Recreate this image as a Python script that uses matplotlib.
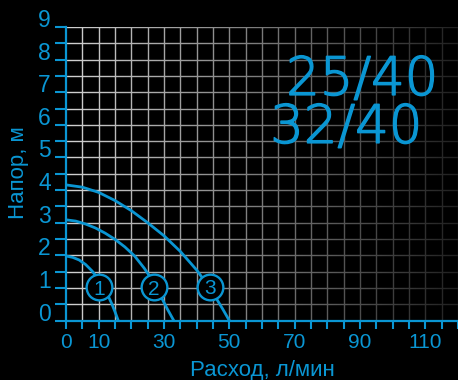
import matplotlib.pyplot as plt
import matplotlib.patheffects as pe
import numpy as np

plt.rcParams['font.family'] = ['Liberation Sans', 'DejaVu Sans']

# Цвета
blue = '#0a96d3'
bg = 'black'

# Кривые насоса (расход, л/мин ; напор, м)
q1 = [0, 2, 4, 6, 8, 10, 12, 14, 15, 16]
h1 = [1.98, 1.94, 1.86, 1.72, 1.52, 1.26, 0.95, 0.52, 0.27, 0.0]
q2 = [0, 3, 6, 9, 12, 15, 18, 21, 24, 27, 29, 31, 33]
h2 = [3.09, 3.05, 2.96, 2.84, 2.68, 2.49, 2.26, 1.98, 1.60, 1.15, 0.75, 0.36, 0.0]
q3 = [0, 5, 10, 15, 20, 25, 30, 35, 40, 44, 46, 48, 50]
h3 = [4.16, 4.09, 3.93, 3.68, 3.37, 3.00, 2.60, 2.12, 1.55, 1.00, 0.68, 0.35, 0.0]

# Номера кривых и их положение
marks = ['1', '2', '3']
mark_q = [10.2, 27.0, 44.1]
mark_h = [1.02, 1.02, 1.04]

# Подписи осей
x_ticks = np.arange(0, 121, 5)
x_labels = {0: '0', 10: '10', 30: '30', 50: '50', 70: '70', 90: '90', 110: '110'}
y_ticks = np.arange(0, 9.01, 0.5)
y_labels = ['0', '1', '2', '3', '4', '5', '6', '7', '8', '9']
models = ['25/40', '32/40']

fig = plt.figure(figsize=(4.58, 3.80), dpi=100, facecolor=bg)
ax = fig.add_axes([66 / 458, 59.4 / 380, 392 / 458, 293.6 / 380])
ax.set_facecolor(bg)
ax.set_xlim(0, 120)
ax.set_ylim(0, 9)

# Сетка
for x in np.arange(5, 121, 5):
    ax.axvline(x, color='#d2d2d2', lw=1.0, zorder=0.5)
for y in np.arange(0.5, 9.01, 0.5):
    ax.axhline(y, color='#d2d2d2', lw=1.0, zorder=0.5)

# Затемнение сетки вправо
grad = np.zeros((2, 256, 4))
grad[..., 3] = np.linspace(0.0, 0.85, 256)[None, :]
ax.imshow(grad, extent=[0, 120, 0, 9], aspect='auto', zorder=1, interpolation='bilinear')

# Кривые
for q, h in [(q1, h1), (q2, h2), (q3, h3)]:
    ax.plot(q, h, color=blue, lw=2.0, zorder=3, solid_capstyle='butt')

for m, q, h in zip(marks, mark_q, mark_h):
    ax.plot(q, h, 'o', ms=18.5, mfc=bg, mec=blue, mew=1.7, zorder=4)
    ax.text(q, h, m, color=blue, fontsize=15, ha='center', va='center_baseline', zorder=5)

# Оси
for s in ['top', 'right']:
    ax.spines[s].set_visible(False)
for s in ['left', 'bottom']:
    ax.spines[s].set_color(blue)
    ax.spines[s].set_linewidth(1.6)
    ax.spines[s].set_zorder(2.5)

ax.set_xticks(x_ticks)
ax.set_xticklabels([x_labels.get(int(t), '') for t in x_ticks])
ax.set_yticks(y_ticks)
ax.set_yticklabels([y_labels[int(t)] if t == int(t) else '' for t in y_ticks], va='baseline')
ax.tick_params(axis='x', colors=blue, length=6, width=1.5, labelsize=15, pad=3)
ax.tick_params(axis='y', colors=blue, length=8, width=1.5, labelsize=16.5, pad=3)

# Модели
thick = [pe.withStroke(linewidth=1.1, foreground=blue)]
ax.text(90.7, 6.92, models[0], color=blue, fontsize=38, family='DejaVu Sans', weight='light',
        ha='center', va='baseline', zorder=5, path_effects=thick)
ax.text(85.8, 5.45, models[1], color=blue, fontsize=38, family='DejaVu Sans', weight='light',
        ha='center', va='baseline', zorder=5, path_effects=thick)

fig.text(262 / 458, 4 / 380, 'Расход, л/мин', color=blue, fontsize=16, ha='center', va='baseline')
fig.text(19 / 458, 207 / 380, 'Напор, м', color=blue, fontsize=16, ha='center', va='center', rotation=90)

fig.savefig('out.png', dpi=100, facecolor=bg)
